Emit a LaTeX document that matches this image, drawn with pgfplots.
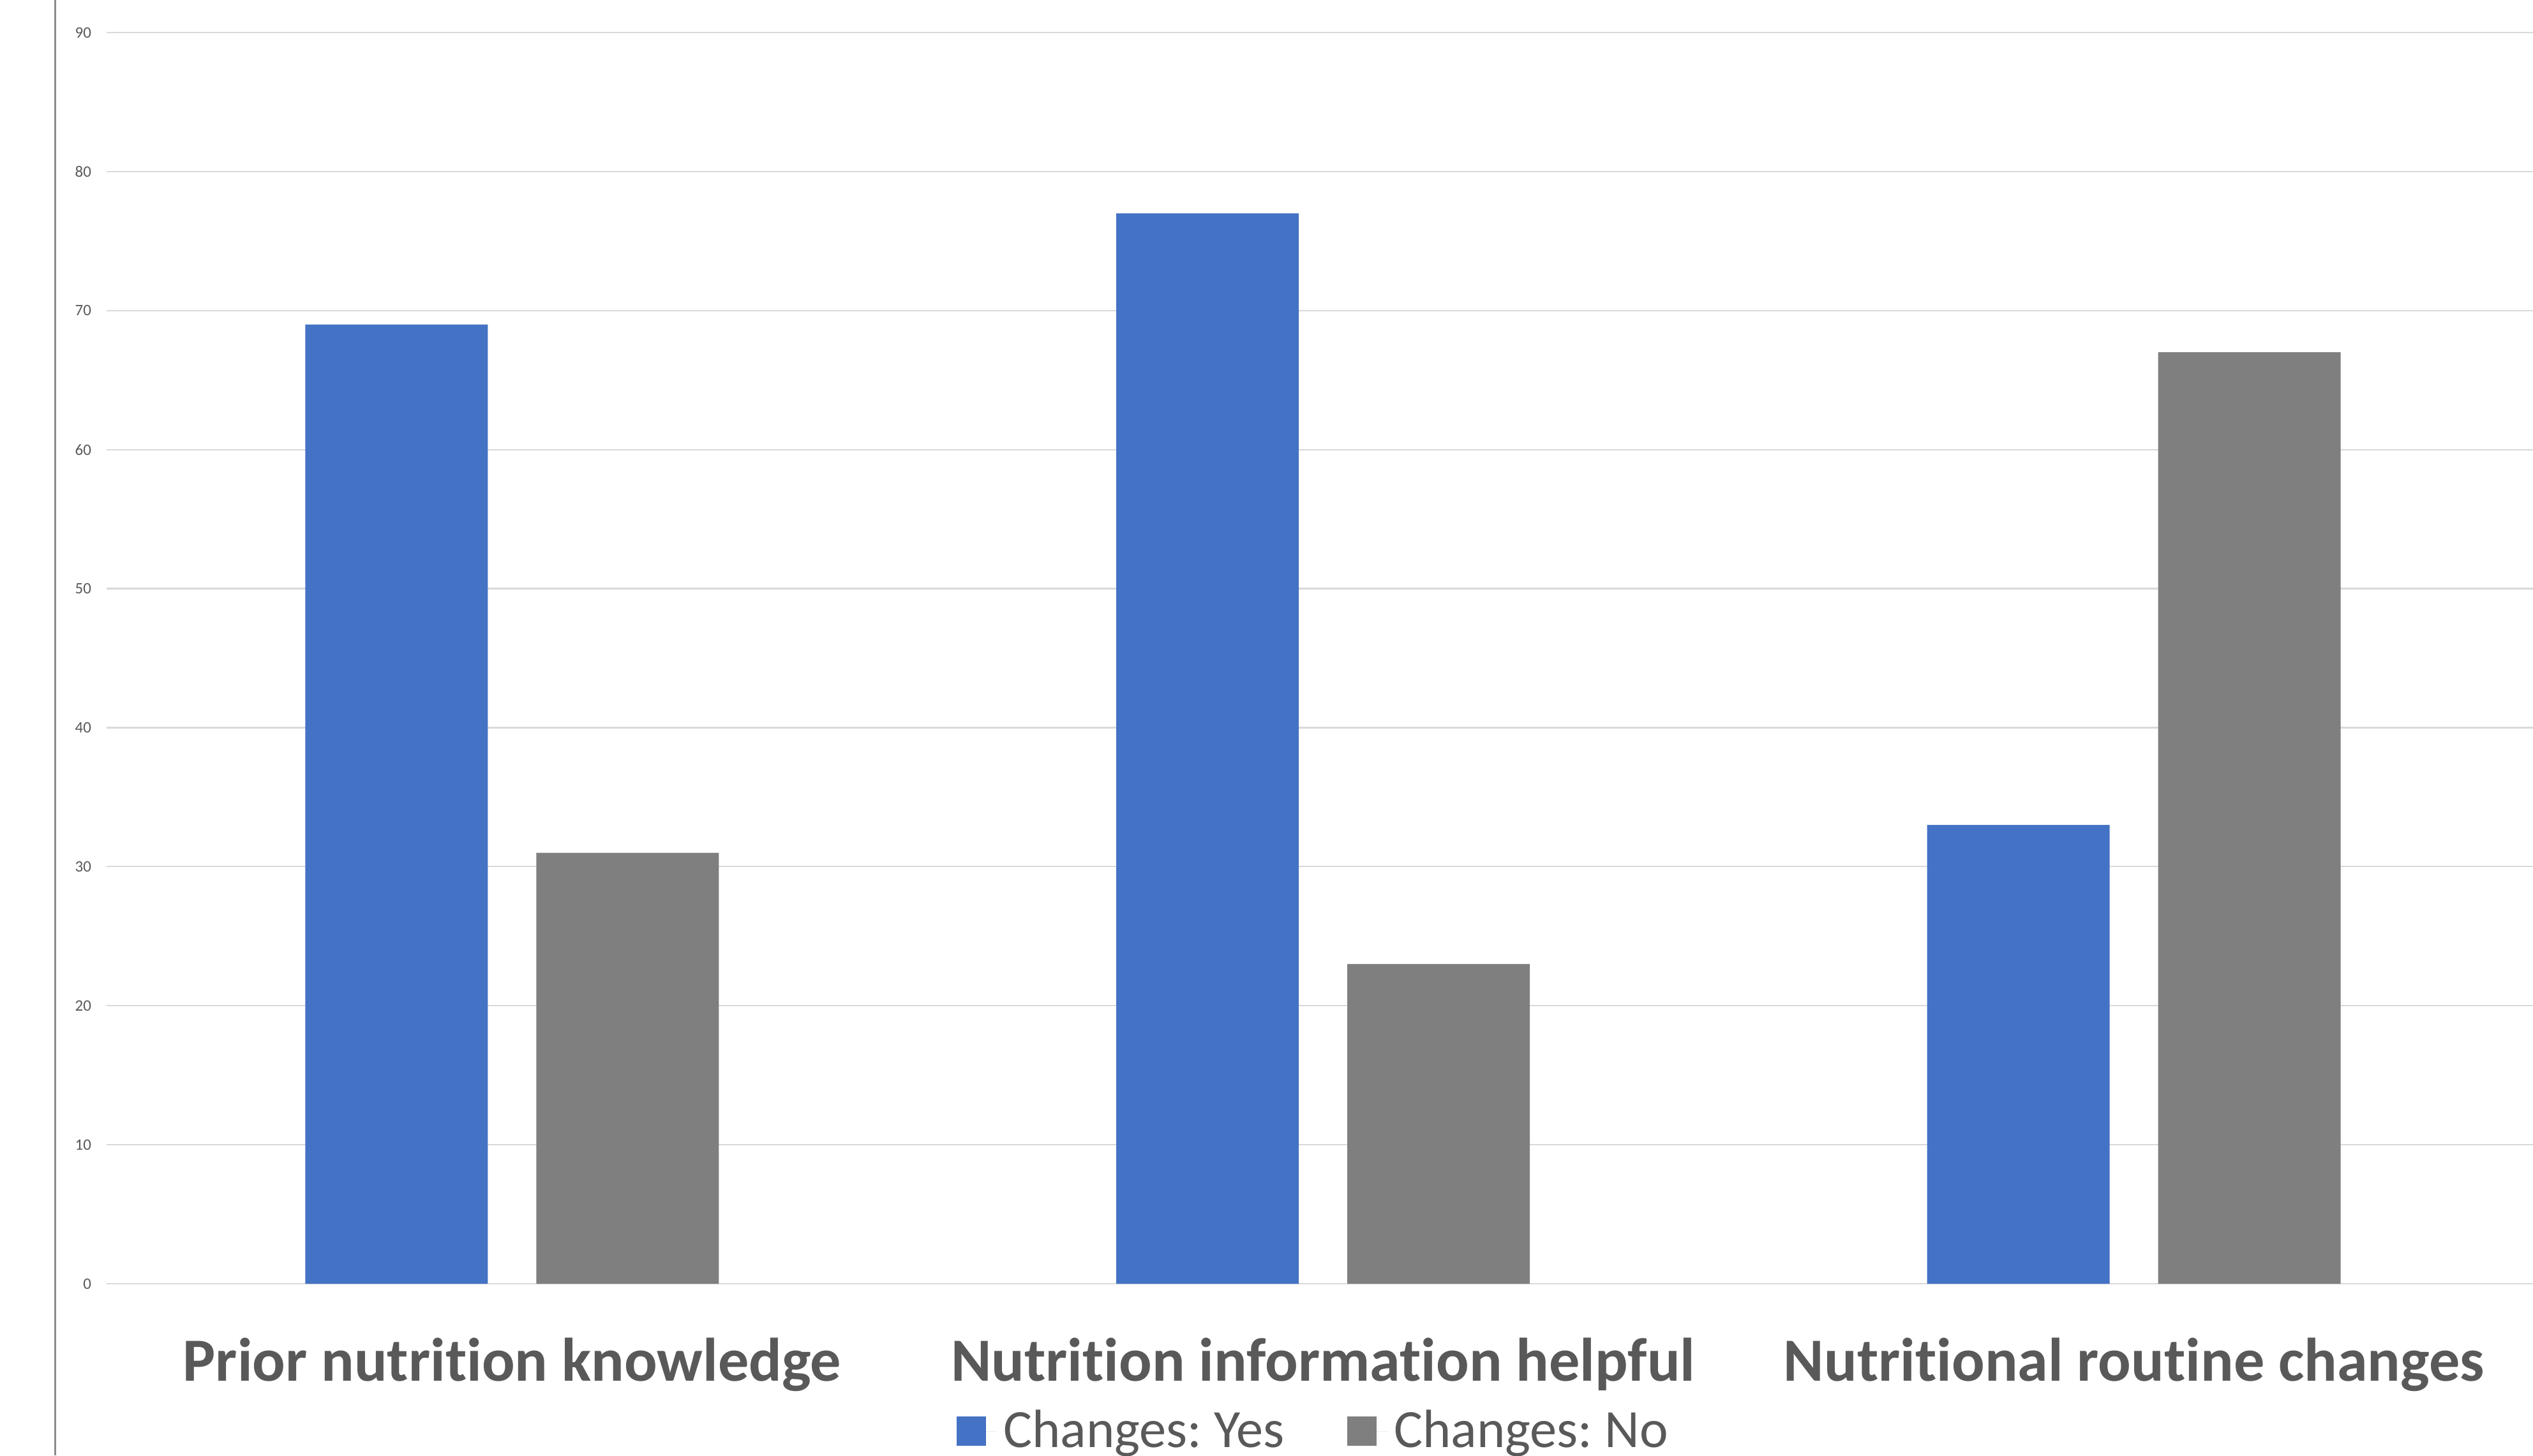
\documentclass[border=0pt]{standalone}
\usepackage{fontspec}
\setmainfont{Carlito}[Ligatures={NoCommon,NoContextual}]
\usepackage{pgfplots}
\pgfplotsset{compat=1.18}
\definecolor{cblue}{HTML}{4472C4}
\definecolor{cgray}{HTML}{7F7F7F}
\definecolor{ctext}{HTML}{595959}
\definecolor{cgrid}{HTML}{D9D9D9}
\definecolor{cline}{HTML}{8C8C8C}
\frenchspacing
\begin{document}
\begin{tikzpicture}
\useasboundingbox (0,0) rectangle (793.8pt,456.2pt);
\clip (0,0) rectangle (793.8pt,456.2pt);
\begin{axis}[
  at={(33.4pt,53.8pt)}, anchor=south west,
  scale only axis, width=762.4pt, height=392.2pt,
  xmin=-0.5, xmax=2.5, ymin=0, ymax=90,
  ybar=15.2pt, bar width=57.2pt,
  axis line style={draw=none},
  major tick length=0pt,
  ytick={0,10,...,90},
  ymajorgrids, grid style={cgrid, line width=0.45pt},
  xtick={0,1,2},
  xticklabels={Prior nutrition knowledge, Nutrition information helpful, Nutritional routine changes},
  xticklabel style={anchor=base, yshift=-30.4pt, font=\fontsize{19.25}{23}\selectfont\bfseries, text=ctext},
  yticklabel style={anchor=east, inner sep=0pt, xshift=-4.6pt, font=\fontsize{5}{6}\selectfont, text=ctext},
  /pgf/number format/assume math mode=true,
  legend columns=2,
  legend style={at={(0.4970,-0.1178)}, anchor=center, draw=none, fill=none, font=\fontsize{16.9}{20}\selectfont, text=ctext, /tikz/every even column/.append style={column sep=17.7pt}},
  legend image code/.code={\fill[#1] (0pt,-4.55pt) rectangle (9.1pt,4.55pt); \path (0pt,0pt) -- (12.6pt,0pt);},
]
\addplot[fill=cblue, draw=none] coordinates {(0,69) (1,77) (2,33)};
\addplot[fill=cgray, draw=none] coordinates {(0,31) (1,23) (2,67)};
\legend{Changes: Yes, Changes: No}
\end{axis}
\draw[cline, line width=0.6pt] (17.2pt,0) -- (17.2pt,456.2pt);
\end{tikzpicture}
\end{document}
